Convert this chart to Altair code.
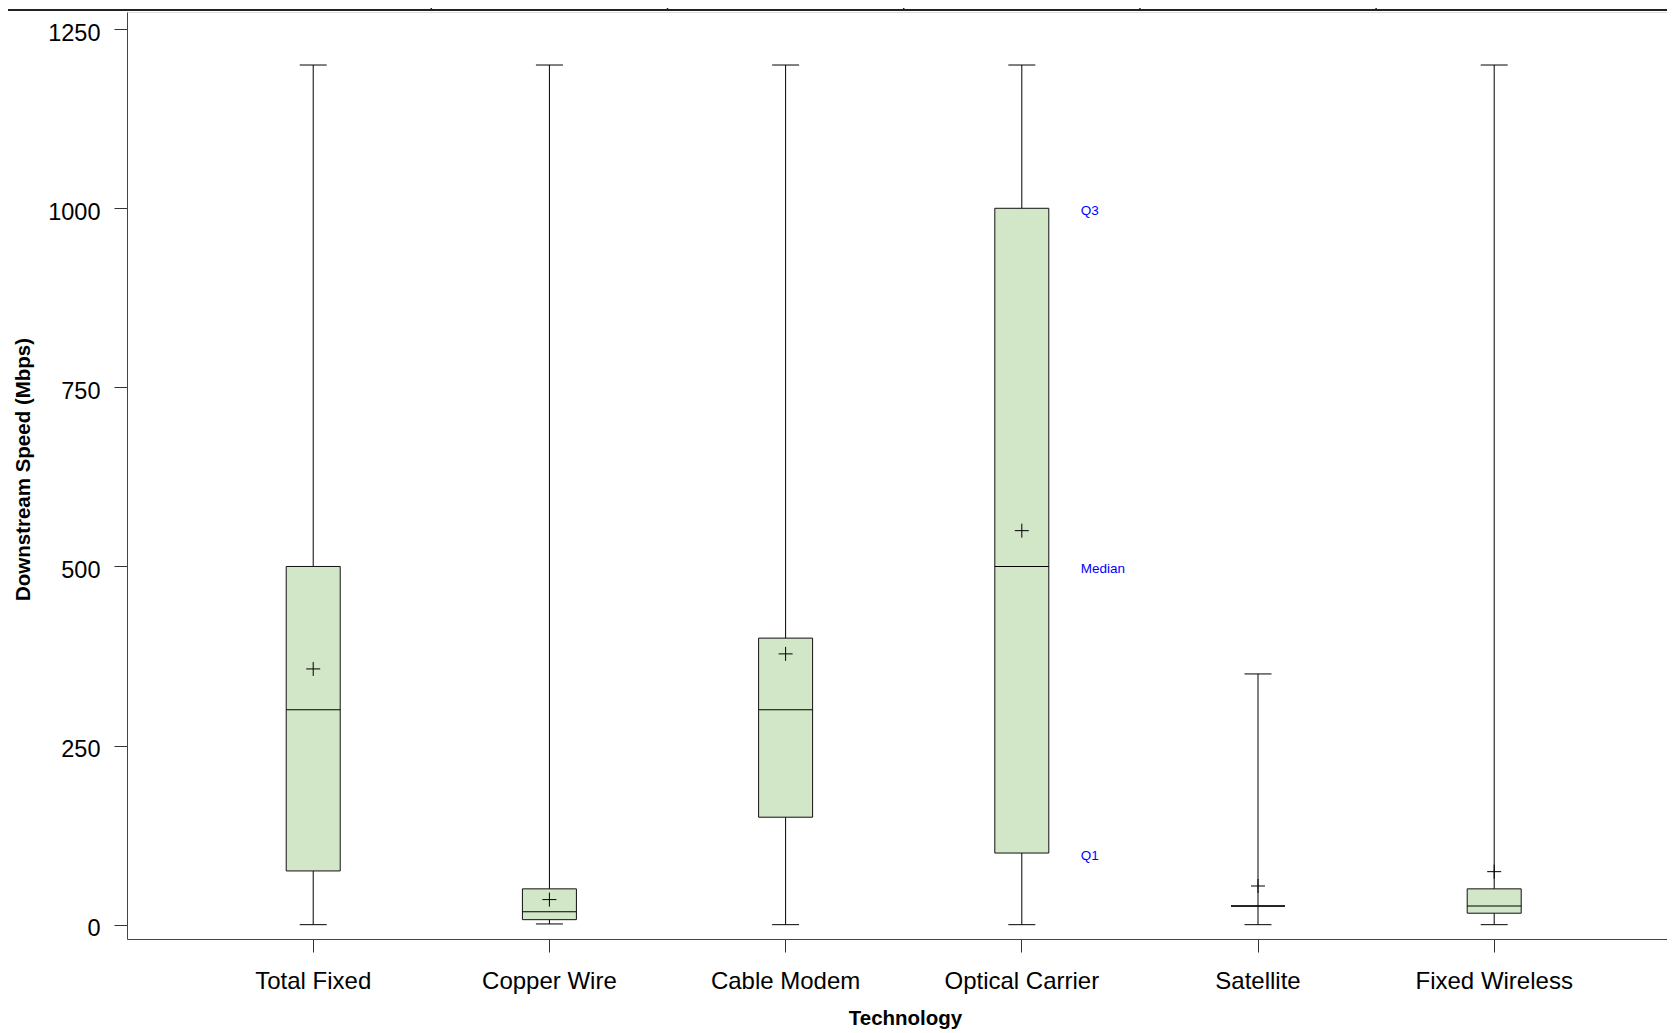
import altair as alt
import pandas as pd

# ---- data ----
categories = ["Total Fixed", "Copper Wire", "Cable Modem", "Optical Carrier", "Satellite", "Fixed Wireless"]
mins = [0, 1, 0, 0, 0, 0]
q1s = [75, 7, 150, 100, 26, 16]
medians = [300, 18, 300, 500, 26, 26]
q3s = [500, 50, 400, 1000, 26, 50]
maxs = [1200, 1200, 1200, 1200, 350, 1200]
means = [357, 35, 378, 550, 54, 74]

annot_labels = ["Q3", "Median", "Q1"]
annot_tech = "Optical Carrier"
y_ticks = [0, 250, 500, 750, 1000, 1250]

FONT = "Liberation Sans"
W = 1540
H = 927

df = pd.DataFrame({
    "tech": categories, "min": mins, "q1": q1s, "median": medians,
    "q3": q3s, "max": maxs, "mean": means,
})
i_opt = categories.index(annot_tech)
annot_df = pd.DataFrame({
    "tech": [annot_tech] * 3,
    "value": [q3s[i_opt], medians[i_opt], q1s[i_opt]],
    "label": annot_labels,
})
sep_df = pd.DataFrame({"tech": categories[:-1]})
one_df = pd.DataFrame({"a": [0]})

xscale = alt.Scale(domain=categories, paddingInner=0, paddingOuter=0.26, align=0.5546)
yscale = alt.Scale(domain=[-20, 1274], nice=False, zero=False)

xaxis = alt.Axis(
    title="Technology", labelAngle=0, labelFontSize=24, labelFont=FONT,
    labelColor="black", tickSize=13, labelPadding=17, tickColor="#333",
    domainColor="#444", titleFont=FONT, titleFontSize=20.5, titleFontWeight="bold",
    titleColor="black", titleX=778, titleY=85, titleBaseline="alphabetic",
    titleAlign="center",
)
yaxis = alt.Axis(
    values=y_ticks, format="d", title="Downstream Speed (Mbps)", labelFontSize=23.5,
    labelFont=FONT, labelColor="black", tickSize=13, labelPadding=14,
    labelOffset=4, grid=False, tickColor="#333", domainColor="#444",
    titleFont=FONT, titleFontSize=20.5, titleFontWeight="bold", titleColor="black",
    titleX=-98, titleY=457, titleBaseline="alphabetic", titleAlign="center",
)


def X():
    return alt.X("tech:N", scale=xscale, sort=categories, axis=xaxis)


def Y(field):
    return alt.Y(field, type="quantitative", scale=yscale, axis=yaxis)


base = alt.Chart(df)

whisker = base.mark_rule(color="black", strokeWidth=1).encode(
    x=X(), y=Y("min"), y2="max:Q")
box = base.mark_bar(size=54, fill="#D2E6C8", stroke="#111", strokeWidth=1, opacity=1).encode(
    x=X(), y=Y("q1"), y2="q3:Q")
median = base.mark_tick(size=54, thickness=1, color="black", opacity=1).encode(
    x=X(), y=Y("median"))
cap_lo = base.mark_tick(size=27, thickness=1, color="black", opacity=1).encode(
    x=X(), y=Y("min"))
cap_hi = base.mark_tick(size=27, thickness=1, color="black", opacity=1).encode(
    x=X(), y=Y("max"))
mean = base.mark_point(shape="M-1,0H1M0,-1V1", size=196, filled=False,
                       color="black", strokeWidth=1, opacity=1).encode(
    x=X(), y=Y("mean"))

annot = alt.Chart(annot_df).mark_text(
    align="left", baseline="middle", dx=59, dy=3, fontSize=13.5, font=FONT,
    color="#0000FF").encode(x=X(), y=Y("value"), text="label:N")

top_line = alt.Chart(one_df).mark_rule(color="#222", strokeWidth=2).encode(
    x=alt.value(-119), x2=alt.value(W), y=alt.value(-2))
top_ticks = alt.Chart(sep_df).mark_rule(color="#222", strokeWidth=1.5).encode(
    x=alt.X("tech:N", scale=xscale, sort=categories, axis=xaxis, bandPosition=1),
    y=alt.value(-4), y2=alt.value(-1))

chart = alt.layer(
    whisker, box, median, cap_lo, cap_hi, mean, annot, top_line, top_ticks
).properties(
    width=W, height=H,
    autosize=alt.AutoSizeParams(type="none"),
    padding={"left": 119, "top": 4, "right": 0, "bottom": 90},
).configure_view(stroke=None).configure(font=FONT)

chart.save("out.html", embed_options={"renderer": "svg", "actions": False})
